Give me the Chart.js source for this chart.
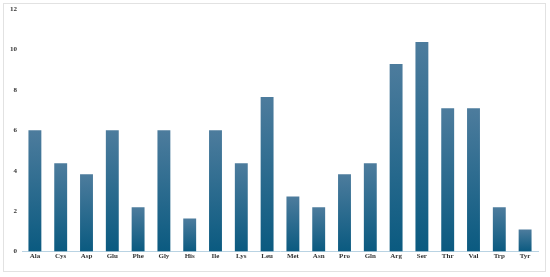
<!DOCTYPE html>
<html>
<head>
<meta charset="utf-8">
<script src="https://cdn.jsdelivr.net/npm/chart.js@4.4.1/dist/chart.umd.min.js"></script>
<style>
  html, body { margin: 0; padding: 0; background: #fff; }
  #wrap { position: relative; width: 550px; height: 277px; }
  #frame { position: absolute; left: 3px; top: 3px; width: 541px; height: 267px; border: 1px solid #e2e2e2; }
  canvas { position: absolute; left: 0; top: 0; }
</style>
</head>
<body>
<div id="wrap">
  <div id="frame"></div>
  <canvas id="myChart" width="550" height="277"></canvas>
</div>
<script>
// amino acid names along the x axis
const aminoAcids = ['Ala', 'Cys', 'Asp', 'Glu', 'Phe', 'Gly', 'His', 'Ile', 'Lys', 'Leu',
  'Met', 'Asn', 'Pro', 'Gln', 'Arg', 'Ser', 'Thr', 'Val', 'Trp', 'Tyr'];
// bar heights
const counts = [6.01, 4.37, 3.83, 6.01, 2.19, 6.01, 1.64, 6.01, 4.37, 7.65,
  2.73, 2.19, 3.83, 4.37, 9.29, 10.38, 7.10, 7.10, 2.19, 1.09];
// y axis ticks
const yTicks = [0, 2, 4, 6, 8, 10, 12];

// each bar is lighter at its top and darker at its base
function barGradient(context) {
  const chart = context.chart;
  const yScale = chart.scales.y;
  if (!chart.chartArea || !yScale || context.type !== 'data') return '#2f6e93';
  const top = yScale.getPixelForValue(context.raw);
  const bottom = yScale.getPixelForValue(0);
  if (!isFinite(top) || !isFinite(bottom) || top === bottom) return '#2f6e93';
  const g = chart.ctx.createLinearGradient(0, top, 0, bottom);
  g.addColorStop(0, '#4d7c9d');
  g.addColorStop(1, '#0a5a80');
  return g;
}

const tickFont = { family: '"Liberation Serif", "Times New Roman", serif', size: 7, weight: 'bold' };

new Chart(document.getElementById('myChart'), {
  type: 'bar',
  data: {
    labels: aminoAcids,
    datasets: [{
      data: counts,
      backgroundColor: barGradient,
      borderWidth: 0,
      categoryPercentage: 1,
      barPercentage: 0.5
    }]
  },
  options: {
    responsive: false,
    animation: false,
    layout: { padding: { left: 5, right: 12, top: 4, bottom: 17 } },
    plugins: { legend: { display: false }, tooltip: { enabled: false } },
    scales: {
      x: {
        grid: { display: false, drawTicks: false },
        border: { display: true, color: '#b9d3e3', width: 1 },
        ticks: { font: tickFont, color: '#333', padding: 0 }
      },
      y: {
        min: 0,
        max: 12,
        afterBuildTicks: (scale) => { scale.ticks = yTicks.map(v => ({ value: v })); },
        grid: { display: false, drawTicks: false },
        border: { display: false },
        ticks: { font: tickFont, color: '#333', padding: 5 }
      }
    }
  }
});
</script>
</body>
</html>
